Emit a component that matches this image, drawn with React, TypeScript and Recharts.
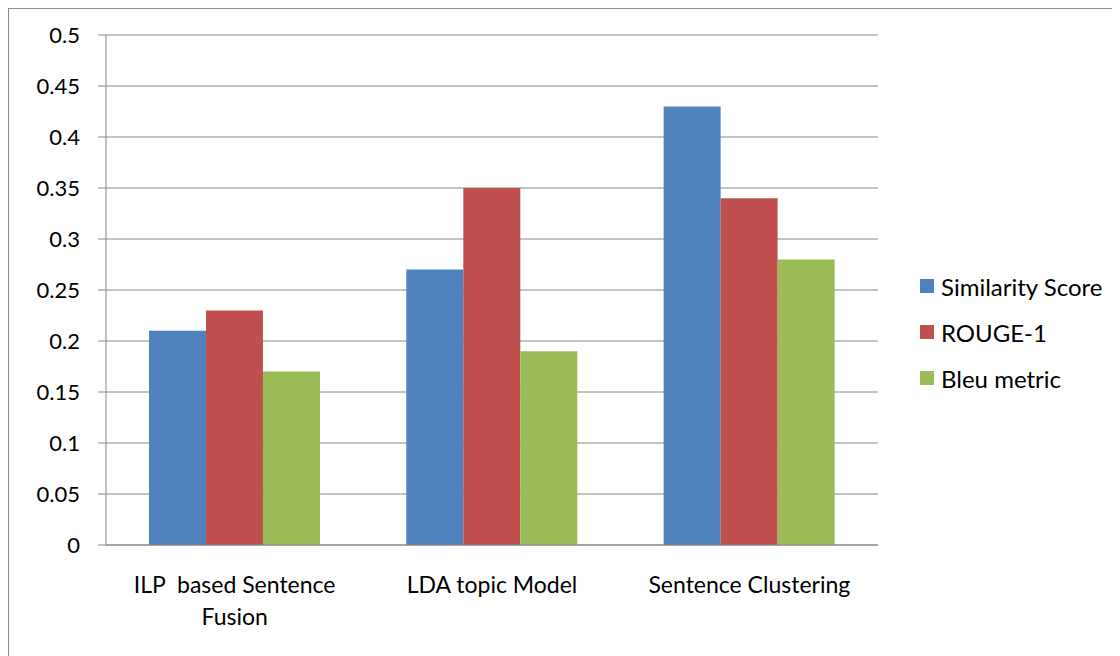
import { BarChart, Bar, XAxis, YAxis, CartesianGrid, Legend } from 'recharts';

// Summary scores per method
const methods = ['ILP  based Sentence\nFusion', 'LDA topic Model', 'Sentence Clustering'];
const similarityScore = [0.21, 0.27, 0.43];
const rouge1 = [0.23, 0.35, 0.34];
const bleuMetric = [0.17, 0.19, 0.28];
const yTicks = [0, 0.05, 0.1, 0.15, 0.2, 0.25, 0.3, 0.35, 0.4, 0.45, 0.5];
const edgeTicks = [0, 1, 2, 3];

const series = [
  { key: 'similarity', name: 'Similarity Score', color: '#4F81BD' },
  { key: 'rouge', name: 'ROUGE-1', color: '#C0504D' },
  { key: 'bleu', name: 'Bleu metric', color: '#9BBB59' },
];

const data = methods.map((m, i) => ({
  method: m,
  similarity: similarityScore[i],
  rouge: rouge1[i],
  bleu: bleuMetric[i],
}));

const FONT = 'Lato, "Open Sans", sans-serif';
const AXIS_GRAY = '#868686';

// Category label, split on explicit line breaks
function MethodTick(props: any) {
  const { x, y, payload } = props;
  const lines = String(payload.value).split('\n');
  return (
    <g>
      {lines.map((line, i) => (
        <text
          key={i}
          x={x}
          y={y + 40 + i * 32}
          textAnchor="middle"
          fontSize={23}
          fontFamily={FONT}
          fill="#000"
          style={{ whiteSpace: 'pre' }}
        >
          {line}
        </text>
      ))}
    </g>
  );
}

function LegendBox() {
  return (
    <div style={{ fontFamily: FONT, fontSize: 24, color: '#000' }}>
      {series.map((s) => (
        <div key={s.key} style={{ display: 'flex', alignItems: 'center', height: 46 }}>
          <span
            style={{ width: 14, height: 14, background: s.color, marginRight: 7, display: 'inline-block' }}
          />
          <span>{s.name}</span>
        </div>
      ))}
    </div>
  );
}

export default function App() {
  return (
    <div
      style={{
        borderLeft: '1px solid #8c8c8c',
        borderTop: '1px solid #8c8c8c',
        width: 1111,
        height: 647,
        background: '#fff',
      }}
    >
      <BarChart
        width={1111}
        height={647}
        data={data}
        margin={{ top: 26, right: 242, bottom: 109, left: 0 }}
        barCategoryGap="16.7%"
        barGap={0}
      >
        <CartesianGrid vertical={false} stroke={AXIS_GRAY} />
        <XAxis
          xAxisId="cat"
          dataKey="method"
          tick={<MethodTick />}
          tickLine={false}
          axisLine={{ stroke: AXIS_GRAY }}
          height={1}
          interval={0}
        />
        {/* tick marks at the category boundaries */}
        <XAxis
          xAxisId="edge"
          type="number"
          domain={[0, 3]}
          ticks={edgeTicks}
          tick={false}
          axisLine={false}
          tickLine={{ stroke: AXIS_GRAY }}
          tickSize={6}
          height={1}
        />
        <YAxis
          domain={[0, 0.5]}
          ticks={yTicks}
          width={97}
          axisLine={{ stroke: AXIS_GRAY }}
          tickLine={{ stroke: AXIS_GRAY }}
          tickSize={8}
          tickMargin={18}
          tick={{ fontSize: 22, fontFamily: FONT, fill: '#000' }}
          interval={0}
        />
        <Legend
          layout="vertical"
          align="center"
          verticalAlign="middle"
          content={<LegendBox />}
          wrapperStyle={{ left: 911, top: 254, width: 200 }}
        />
        {series.map((s) => (
          <Bar
            key={s.key}
            xAxisId="cat"
            dataKey={s.key}
            name={s.name}
            fill={s.color}
            isAnimationActive={false}
          />
        ))}
      </BarChart>
    </div>
  );
}
